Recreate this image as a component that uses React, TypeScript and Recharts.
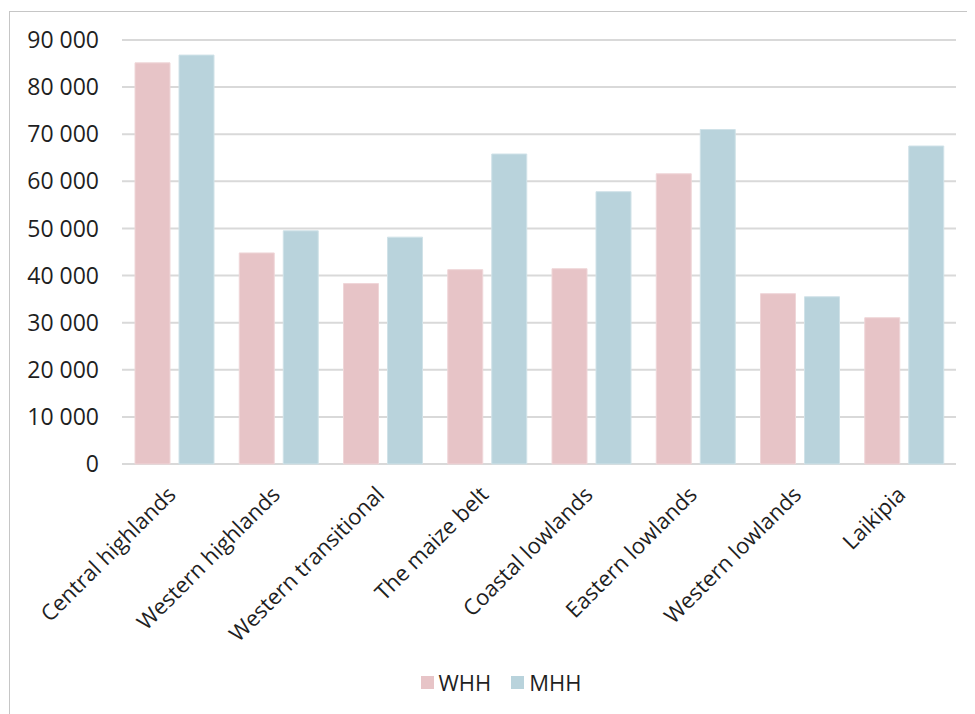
import React from "react";
import { BarChart, Bar, XAxis, YAxis, CartesianGrid, Legend } from "recharts";

// Regions and household values (WHH = women-headed, MHH = men-headed)
const regions = [
  "Central highlands",
  "Western highlands",
  "Western transitional",
  "The maize belt",
  "Coastal lowlands",
  "Eastern lowlands",
  "Western lowlands",
  "Laikipia",
];
const whhValues = [85150, 44800, 38300, 41250, 41450, 61600, 36150, 31050];
const mhhValues = [86800, 49500, 48150, 65800, 57800, 71000, 35500, 67500];
const yTicks = [0, 10000, 20000, 30000, 40000, 50000, 60000, 70000, 80000, 90000];
const seriesOrder = ["WHH", "MHH"];

const data = regions.map((region, i) => ({
  region,
  WHH: whhValues[i],
  MHH: mhhValues[i],
}));

const FONT = "'Open Sans', 'Noto Sans', sans-serif";
const TEXT = "#1f1f1f";
const PINK = "#e7c4c7";
const BLUE = "#b9d3dc";

const formatThousands = (v: number) =>
  String(v).replace(/\B(?=(\d{3})+(?!\d))/g, " ");

const RotatedTick = (props: any) => {
  const { x, y, payload } = props;
  const ax = x + 3;
  const ay = y + 32;
  return (
    <text
      x={ax}
      y={ay}
      textAnchor="end"
      transform={`rotate(-45, ${ax}, ${ay})`}
      fontFamily={FONT}
      fontSize={22}
      fill={TEXT}
    >
      {payload.value}
    </text>
  );
};

const LegendContent = (props: any) => {
  const items = [...(props.payload || [])].sort(
    (a: any, b: any) => seriesOrder.indexOf(a.value) - seriesOrder.indexOf(b.value)
  );
  return (
    <div
      style={{
        display: "flex",
        justifyContent: "center",
        alignItems: "center",
        height: 30,
        paddingLeft: 19,
        fontFamily: FONT,
        fontSize: 22,
        color: TEXT,
      }}
    >
      {items.map((entry: any, i: number) => (
        <div
          key={entry.value}
          style={{ display: "flex", alignItems: "center", marginLeft: i === 0 ? 0 : 20 }}
        >
          <span
            style={{
              display: "inline-block",
              width: 13,
              height: 13,
              background: entry.color,
              marginRight: 5,
            }}
          />
          <span>{entry.value}</span>
        </div>
      ))}
    </div>
  );
};

export default function App() {
  return (
    <div style={{ position: "relative", width: 967, height: 706, overflow: "hidden", background: "#fff" }}>
      <div
        style={{
          position: "absolute",
          left: 1,
          top: 3,
          width: 1200,
          height: 1200,
          border: "1px solid #c6c6c6",
          boxSizing: "border-box",
        }}
      />
      <BarChart
        width={967}
        height={706}
        data={data}
        margin={{ top: 32, right: 19, left: 0, bottom: 40 }}
        barGap={9}
        barSize={35}
      >
        <CartesianGrid vertical={false} stroke="#d9d9d9" strokeWidth={2} />
        <XAxis
          dataKey="region"
          axisLine={false}
          tickLine={false}
          tickSize={0}
          tickMargin={0}
          interval={0}
          height={180}
          tick={<RotatedTick />}
        />
        <YAxis
          width={114}
          domain={[0, 90000]}
          ticks={yTicks}
          axisLine={false}
          tickLine={false}
          tickSize={0}
          tickMargin={23}
          tickFormatter={formatThousands}
          tick={{ fontFamily: FONT, fontSize: 23, fill: TEXT }}
        />
        <Legend
          verticalAlign="bottom"
          content={<LegendContent />}
          wrapperStyle={{ top: 659, bottom: "auto", left: 0, width: 967 }}
        />
        <Bar dataKey="WHH" fill={PINK} stroke="#efd6d8" strokeWidth={1} isAnimationActive={false} />
        <Bar dataKey="MHH" fill={BLUE} stroke="#d0e2e8" strokeWidth={1} isAnimationActive={false} />
      </BarChart>
    </div>
  );
}
